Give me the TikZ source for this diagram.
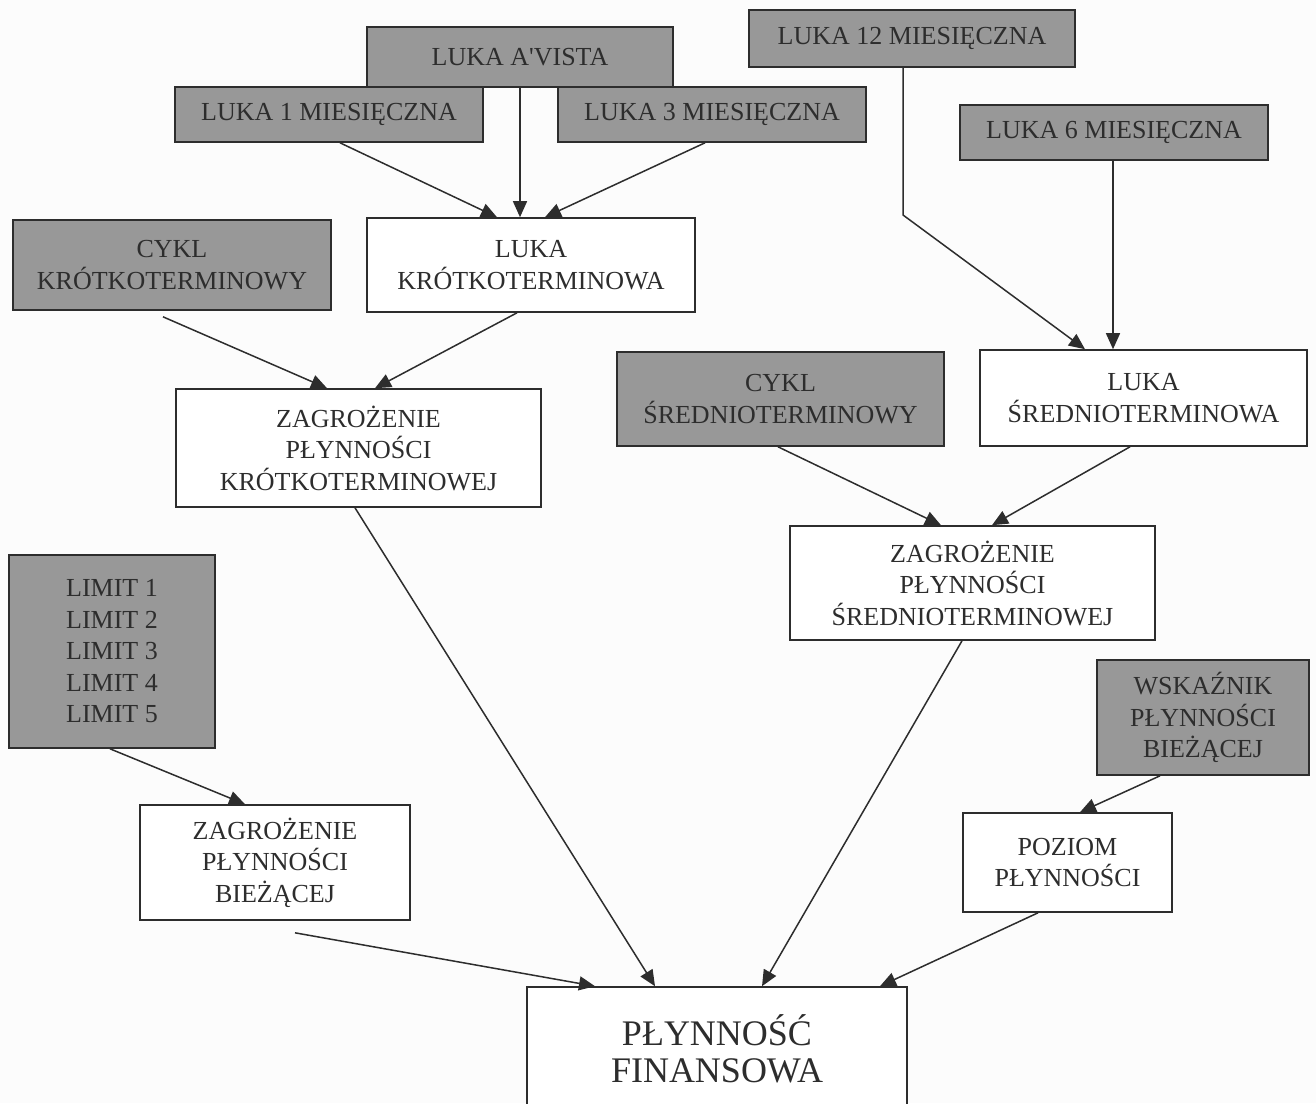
\documentclass[tikz,border=0pt]{standalone}
\usepackage{fontspec}
\setmainfont{Liberation Serif}[Ligatures=TeXOff]
\usetikzlibrary{arrows.meta}
\definecolor{boxgray}{RGB}{152,152,152}
\definecolor{ink}{RGB}{45,45,45}
\definecolor{paper}{RGB}{252,252,252}
\begin{document}
\begin{tikzpicture}[x=1pt,y=-1pt,
  base/.style={draw=ink,line width=1.6pt,inner sep=0pt,align=center,
    text=ink,font=\fontsize{26}{31.5}\selectfont},
  grayb/.style={base,fill=boxgray},
  whiteb/.style={base,fill=white},
  arr/.style={draw=ink,line width=1.5pt,-{Triangle[length=16pt,width=14pt]}}]
\fill[paper] (0,0) rectangle (1316,1103);
\useasboundingbox (0,0) rectangle (1316,1103);

% top row: gap sources
\node[grayb,minimum width=306pt,minimum height=60pt] (avista) at (520,57) {LUKA A'VISTA};
\node[grayb,minimum width=308pt,minimum height=55pt] (l1) at (329,114.5) {LUKA 1 MIESIĘCZNA};
\node[grayb,minimum width=308pt,minimum height=55pt] (l3) at (712,114.5) {LUKA 3 MIESIĘCZNA};
\node[grayb,minimum width=326pt,minimum height=57pt] (l12) at (912,38.5) {LUKA 12 MIESIĘCZNA};
\node[grayb,minimum width=308pt,minimum height=55pt] (l6) at (1114,132.5) {LUKA 6 MIESIĘCZNA};

% short-term branch
\node[grayb,minimum width=318pt,minimum height=90pt] (cyk) at (172,265) {CYKL\\KRÓTKOTERMINOWY};
\node[whiteb,minimum width=328pt,minimum height=94pt] (lk) at (531,265) {LUKA\\KRÓTKOTERMINOWA};
\node[whiteb,minimum width=365pt,minimum height=118pt] (zk) at (358.5,448) {ZAGROŻENIE\\PŁYNNOŚCI\\KRÓTKOTERMINOWEJ};

% medium-term branch
\node[grayb,minimum width=327pt,minimum height=94pt] (cys) at (780.5,399) {CYKL\\ŚREDNIOTERMINOWY};
\node[whiteb,minimum width=327pt,minimum height=96pt] (ls) at (1143.5,398) {LUKA\\ŚREDNIOTERMINOWA};
\node[whiteb,minimum width=365pt,minimum height=114pt] (zs) at (972.5,583) {ZAGROŻENIE\\PŁYNNOŚCI\\ŚREDNIOTERMINOWEJ};

% current liquidity
\node[grayb,minimum width=206pt,minimum height=193pt] (lim) at (112,651.5) {LIMIT 1\\LIMIT 2\\LIMIT 3\\LIMIT 4\\LIMIT 5};
\node[whiteb,minimum width=270pt,minimum height=115pt] (zb) at (275,862.5) {ZAGROŻENIE\\PŁYNNOŚCI\\BIEŻĄCEJ};
\node[grayb,minimum width=212pt,minimum height=115pt] (wsk) at (1203,717.5) {WSKAŹNIK\\PŁYNNOŚCI\\BIEŻĄCEJ};
\node[whiteb,minimum width=209pt,minimum height=99pt] (poz) at (1067.5,862.5) {POZIOM\\PŁYNNOŚCI};

% result
\node[whiteb,minimum width=380pt,minimum height=124pt,font=\fontsize{36}{37}\selectfont] (pf) at (717,1049) {PŁYNNOŚĆ\\FINANSOWA};

% connectors
\draw[arr] ([xshift=11pt]l1.south) -- ([xshift=-34pt]lk.north);
\draw[arr] (avista.south) -- ([xshift=-11pt]lk.north);
\draw[arr] ([xshift=-7pt]l3.south) -- ([xshift=14pt]lk.north);
\coordinate (bend) at (903,215);
\draw[arr] ([xshift=-9pt]l12.south) -- (bend) -- ([xshift=-58.5pt]ls.north);
\draw[arr] ([xshift=-1pt]l6.south) -- ([xshift=-30.5pt]ls.north);
\draw[arr] ([xshift=-9pt,yshift=-6pt]cyk.south) -- ([xshift=-31.5pt]zk.north);
\draw[arr] ([xshift=-14pt]lk.south) -- ([xshift=16.5pt]zk.north);
\draw[arr] ([xshift=-2.5pt]cys.south) -- ([xshift=-31.5pt]zs.north);
\draw[arr] ([xshift=-13.5pt]ls.south) -- ([xshift=19.5pt]zs.north);
\draw[arr] ([xshift=-2pt]lim.south) -- ([xshift=-30pt]zb.north);
\draw[arr] ([xshift=-3.5pt]zk.south) -- ([xshift=-62pt]pf.north);
\draw[arr] ([xshift=-10.5pt]zs.south) -- ([xshift=45pt]pf.north);
\draw[arr] ([xshift=20pt,yshift=-12pt]zb.south) -- ([xshift=-122pt]pf.north);
\draw[arr] ([xshift=-43pt]wsk.south) -- ([xshift=12.5pt]poz.north);
\draw[arr] ([xshift=-29.5pt]poz.south) -- ([xshift=163pt]pf.north);
\end{tikzpicture}
\end{document}
